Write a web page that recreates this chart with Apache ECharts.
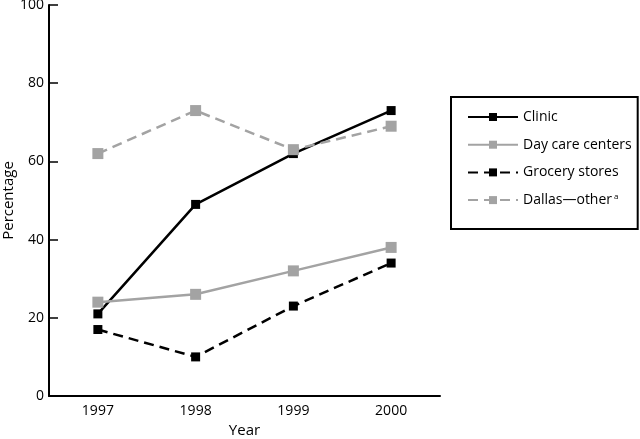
<!DOCTYPE html>
<html>
<head>
<meta charset="utf-8">
<script src="https://cdn.jsdelivr.net/npm/echarts@6/dist/echarts.min.js"></script>
<style>
html, body { margin: 0; padding: 0; background: #fff; }
#chart { width: 640px; height: 439px; }
</style>
</head>
<body>
<div id="chart"></div>
<script>
var years = ['1997', '1998', '1999', '2000'];
var clinic = [21, 49, 62, 73];
var dayCare = [24, 26, 32, 38];
var grocery = [17, 10, 23, 34];
var dallasOther = [62, 73, 63, 69];

var FONT = '"Open Sans", sans-serif';
var GREY = '#a3a3a3';

function lineSeries(name, data, color, dashed, size) {
	return {
		name: name,
		type: 'line',
		data: data,
		symbol: 'rect',
		symbolSize: size,
		color: color,
		itemStyle: { color: color },
		lineStyle: { color: color, width: 2.5, type: dashed ? [10, 6] : 'solid' },
		emphasis: { disabled: true }
	};
}

var chart = echarts.init(document.getElementById('chart'));
chart.setOption({
	animation: false,
	grid: { left: 49, right: 200, top: 5, bottom: 43, containLabel: false, outerBoundsMode: 'none' },
	legend: {
		orient: 'vertical',
		left: 451,
		top: 97,
		padding: [13, 6, 22, 16],
		itemGap: 13.7,
		itemWidth: 50,
		itemHeight: 10,
		borderColor: '#000',
		borderWidth: 2,
		textStyle: {
			fontFamily: FONT, fontSize: 14, color: '#000', lineHeight: 14,
			rich: {
				n: { fontFamily: FONT, fontSize: 14, color: '#000', lineHeight: 14 },
				sup: { fontFamily: FONT, fontSize: 8, color: '#000', verticalAlign: 'top', lineHeight: 8, padding: [0, 0, 6, 2] }
			}
		},
		formatter: function(name) {
			if (name === 'Dallas—other') {
				return '{n|Dallas—other}{sup|a}';
			}
			return name;
		},
		data: ['Clinic', 'Day care centers', 'Grocery stores', 'Dallas—other']
	},
	xAxis: {
		type: 'category',
		data: years,
		boundaryGap: true,
		name: 'Year',
		nameLocation: 'middle',
		nameGap: 27,
		nameMoveOverlap: false,
		nameTextStyle: { fontFamily: FONT, fontSize: 15, color: '#000' },
		axisLine: { lineStyle: { color: '#000', width: 2 } },
		axisTick: { inside: true, length: 9, lineStyle: { color: '#000', width: 1.5 } },
		axisLabel: { fontFamily: FONT, fontSize: 14, color: '#000', margin: 8 },
		splitLine: { show: false }
	},
	yAxis: {
		type: 'value',
		min: 0,
		max: 100,
		interval: 20,
		name: 'Percentage',
		nameLocation: 'middle',
		nameGap: 33,
		nameMoveOverlap: false,
		nameTextStyle: { fontFamily: FONT, fontSize: 15, color: '#000' },
		axisLine: { show: true, lineStyle: { color: '#000', width: 2 } },
		axisTick: { show: true, inside: true, length: 9, lineStyle: { color: '#000', width: 1.5 } },
		axisLabel: { fontFamily: FONT, fontSize: 14, color: '#000', margin: 5 },
		splitLine: { show: false }
	},
	series: [
		lineSeries('Clinic', clinic, '#000', false, 9),
		lineSeries('Day care centers', dayCare, GREY, false, 11),
		lineSeries('Grocery stores', grocery, '#000', true, 9),
		lineSeries('Dallas—other', dallasOther, GREY, true, 11)
	]
});
</script>
</body>
</html>
